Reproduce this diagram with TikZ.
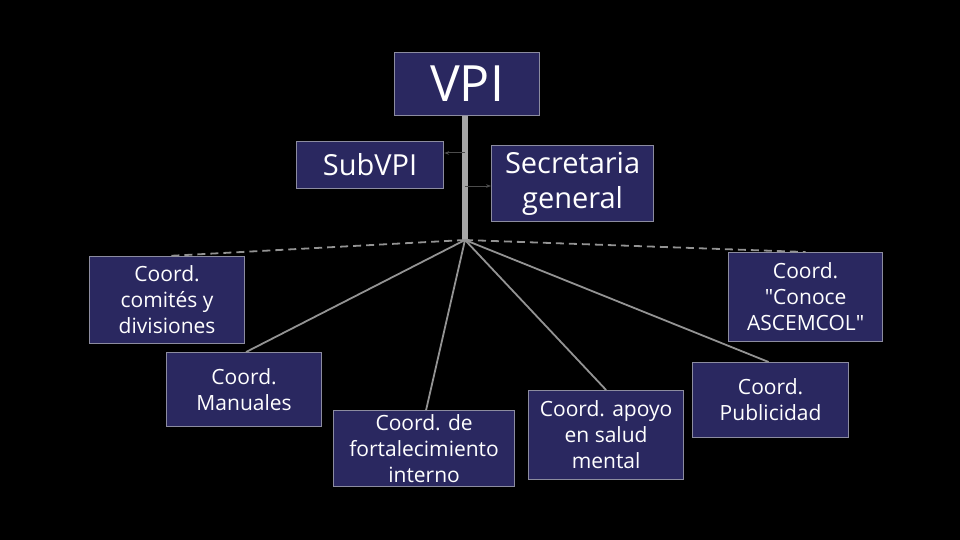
\documentclass[tikz,border=0pt]{standalone}
\usepackage{fontspec}
\setmainfont{Open Sans}
\usetikzlibrary{arrows.meta}
\definecolor{navy}{RGB}{42,40,96}
\definecolor{edgegray}{RGB}{140,140,160}
\tikzset{
  box/.style={draw=edgegray, line width=1.2pt, fill=navy, text=white, align=center, inner sep=0pt, anchor=north west},
  small/.style={font=\fontsize{21}{26}\selectfont},
  mid/.style={font=\fontsize{29}{35}\selectfont},
  big/.style={font=\fontsize{50}{54}\selectfont},
  conn/.style={draw=gray!85, line width=1.8pt},
  dconn/.style={draw=gray!85, line width=1.8pt, dash pattern=on 8pt off 5pt},
  trunk/.style={draw=gray!70, line width=6pt},
  side/.style={draw=black!70, line width=1pt, -{Stealth[length=5pt]}}
}
\begin{document}
\begin{tikzpicture}[x=1pt,y=-1pt]
\fill[black] (0,0) rectangle (960,540);
\useasboundingbox (0,0) rectangle (960,540);

\node[box,big,minimum width=145pt,minimum height=63pt] (vpi) at (394,52) {VPI};
\node[box,mid,minimum width=147pt,minimum height=47pt] (sub) at (296,141) {SubVPI};
\node[box,mid,minimum width=162pt,minimum height=76pt] (sec) at (491,145) {Secretaria\\general};

\node[box,small,minimum width=155pt,minimum height=87pt] (com) at (89,256) {Coord.\\comités y\\divisiones};
\node[box,small,minimum width=155pt,minimum height=74pt] (man) at (166,352) {Coord.\\Manuales};
\node[box,small,minimum width=181pt,minimum height=76pt] (fort) at (333,410) {Coord. de\\fortalecimiento\\interno};
\node[box,small,minimum width=155pt,minimum height=89pt] (sal) at (528,390) {Coord. apoyo\\en salud\\mental};
\node[box,small,minimum width=156pt,minimum height=75pt] (pub) at (692,362) {Coord.\\Publicidad};
\node[box,small,minimum width=154pt,minimum height=89pt] (con) at (728,252) {Coord.\\\textquotedbl Conoce\\ASCEMCOL\textquotedbl};

\coordinate (hub) at (465,240);
\coordinate (t1) at (465,153);
\coordinate (t2) at (465,186);

\draw[trunk] (vpi.south -| hub) -- (hub);
\draw[side] (t1) -- (t1 -| sub.east);
\draw[side] (t2) -- (t2 -| sec.west);

\draw[dconn] (hub) -- (com.north);
\draw[dconn] (hub) -- (con.north);
\draw[conn] (hub) -- ([xshift=2pt]man.north);
\draw[conn] (hub) -- ([xshift=2pt]fort.north);
\draw[conn] (hub) -- (sal.north);
\draw[conn] (hub) -- ([xshift=-2pt]pub.north);
\end{tikzpicture}
\end{document}
